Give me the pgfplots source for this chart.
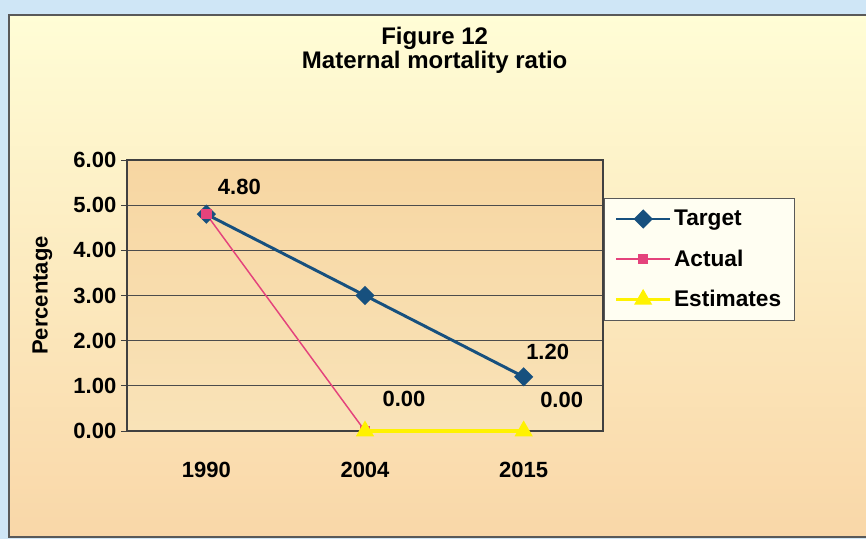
\documentclass[border=0pt]{standalone}
\usepackage{fontspec}
\setmainfont{Liberation Sans}
\usepackage{pgfplots}
\pgfplotsset{compat=1.18}

\definecolor{frameblue}{HTML}{CFE6F6}
\definecolor{bgtop}{HTML}{FFFDD6}
\definecolor{bgbot}{HTML}{F9D7A8}
\definecolor{plottan}{HTML}{F7D6A2}
\definecolor{plotlight}{HTML}{FFFAD8}
\definecolor{plotbot}{HTML}{F9E3B8}
\definecolor{targetblue}{HTML}{17507E}
\definecolor{actualpink}{HTML}{E4437C}
\definecolor{estyellow}{HTML}{FFF200}
\definecolor{legfill}{HTML}{FFFEF2}

\newcommand{\lbl}{\bfseries\fontsize{16.5}{16.5}\selectfont}

\begin{document}
\begin{tikzpicture}
\useasboundingbox (0,0) rectangle (649.5pt,404.25pt);
\fill[frameblue] (0,0) rectangle (649.5pt,404.25pt);
\shade[top color=bgtop, bottom color=bgbot, draw=black!65, line width=0.8pt]
  (6.75pt,1.5pt) rectangle (660pt,393pt);
\node[font=\bfseries\fontsize{18}{17.5}\selectfont, align=center]
  at (326pt,366.5pt) {Figure 12\\Maternal mortality ratio};

\begin{axis}[
  at={(95.25pt,81pt)}, anchor=south west,
  scale only axis, width=357pt, height=203.25pt,
  xmin=-0.5, xmax=2.5, ymin=0, ymax=6,
  clip=false,
  axis background/.style={shade, shading angle=-40,
    top color=plottan, middle color=plotlight, bottom color=plotbot},
  axis line style={draw=black!75, line width=0.8pt},
  ymajorgrids, grid style={black!70, line width=0.6pt},
  xtick={0,1,2}, xticklabels={1990,2004,2015},
  major x tick style={draw=none},
  extra x ticks={0.5,1.5}, extra x tick labels={},
  extra x tick style={grid=none, major tick length=5pt,
    tick style={draw=black!75, line width=0.6pt}},
  ytick={0,1,2,3,4,5,6},
  tick align=outside, tick pos=left,
  major tick length=4.5pt,
  tick style={black!75, line width=0.6pt},
  /pgf/number format/assume math mode=true,
  ticklabel style={font=\lbl},
  yticklabel style={/pgf/number format/.cd, fixed, fixed zerofill, precision=2},
  xticklabel style={yshift=-15pt},
  ylabel={Percentage},
  ylabel style={font=\lbl, at={(axis description cs:-0.178,0.5)}, anchor=center},
  legend style={at={(axis description cs:1.002,0.86)}, anchor=north west,
    draw=black!65, fill=legfill, font=\bfseries\fontsize{17}{17}\selectfont,
    row sep=12.5pt, inner xsep=8pt, inner ysep=7pt},
  legend cell align=left,
  legend image code/.code={
    \draw[mark repeat=2, mark phase=2, #1]
      plot coordinates {(0pt,0pt) (20pt,0pt) (40pt,0pt)};},
]
\addplot[targetblue, line width=2.2pt, mark=square*,
  mark options={rotate=45, solid, fill=targetblue}, mark size=4pt]
  coordinates {(0,4.8) (1,3.0) (2,1.2)};
\addlegendentry{Target}
\addplot[actualpink, line width=1.1pt, mark=square*,
  mark options={fill=actualpink}, mark size=3.4pt]
  coordinates {(0,4.8) (1,0.0)};
\addlegendentry{Actual}
\addplot[estyellow, line width=2.4pt, mark=triangle*,
  mark options={fill=estyellow}, mark size=5.5pt]
  coordinates {(1,0.0) (2,0.0)};
\addlegendentry{Estimates}

\node[font=\lbl] at (axis cs:0,4.8) [xshift=24.75pt, yshift=20.25pt] {4.80};
\node[font=\lbl] at (axis cs:1,0) [xshift=29.25pt, yshift=24pt] {0.00};
\node[font=\lbl] at (axis cs:2,1.2) [xshift=18pt, yshift=18.6pt] {1.20};
\node[font=\lbl] at (axis cs:2,0) [xshift=28.5pt, yshift=23.25pt] {0.00};
\end{axis}
\end{tikzpicture}
\end{document}
